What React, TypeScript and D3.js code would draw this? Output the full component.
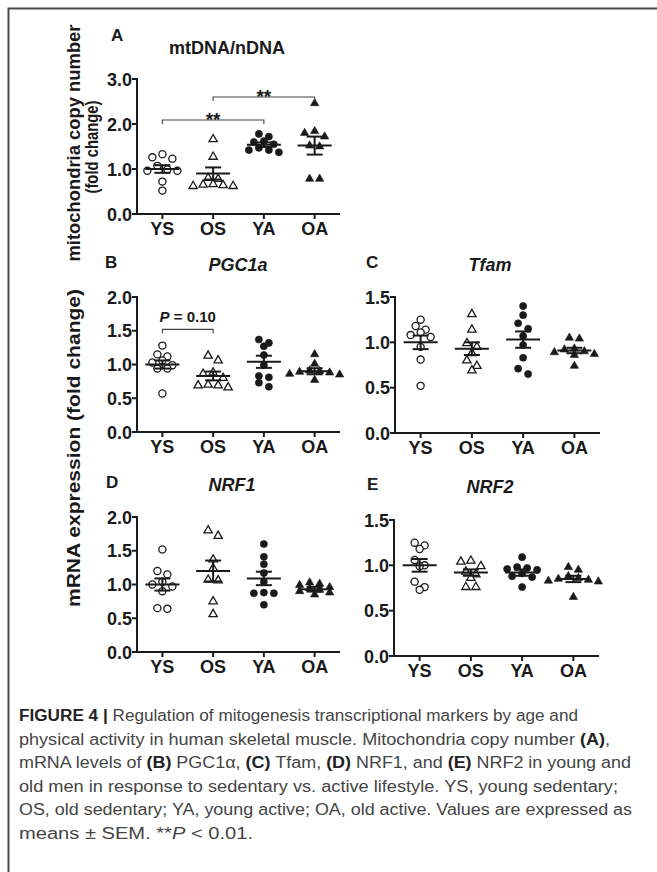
import React from "react"
import * as d3 from "d3"

// groups on every x axis
const groups = ["YS", "OS", "YA", "OA"]

// A - mtDNA/nDNA (values per group)
const mtdnaPoints = [
	[1.33, 1.26, 1.23, 1.07, 0.99, 0.96, 0.96, 0.72, 0.52],
	[1.66, 1.27, 0.80, 0.78, 0.66, 0.65, 0.64, 0.62, 0.62],
	[1.78, 1.72, 1.62, 1.60, 1.55, 1.47, 1.42, 1.42, 1.37],
	[2.46, 1.84, 1.80, 1.72, 1.52, 1.50, 0.78, 0.78],
]
const mtdnaMeans = [1.0, 0.9, 1.54, 1.52]
const mtdnaSems = [0.085, 0.135, 0.05, 0.2]
const mtdnaTicks = [0, 1, 2, 3]

// B - PGC1a
const pgcPoints = [
	[1.28, 1.15, 1.12, 1.06, 1.03, 0.99, 0.94, 0.94, 0.57],
	[1.13, 1.06, 0.88, 0.86, 0.8, 0.7, 0.69, 0.69, 0.66],
	[1.37, 1.32, 1.27, 1.14, 0.99, 0.83, 0.81, 0.73, 0.67],
	[1.15, 1.01, 0.91, 0.9, 0.89, 0.88, 0.86, 0.85, 0.77],
]
const pgcMeans = [1.0, 0.83, 1.04, 0.9]
const pgcSems = [0.06, 0.065, 0.09, 0.045]
const pgcTicks = [0, 0.5, 1, 1.5, 2]

// C - Tfam
const tfamPoints = [
	[1.25, 1.18, 1.14, 1.11, 1.08, 1.06, 0.95, 0.81, 0.52],
	[1.31, 1.14, 0.99, 0.95, 0.88, 0.8, 0.74, 0.69],
	[1.4, 1.3, 1.21, 1.15, 1.07, 0.97, 0.83, 0.71, 0.65],
	[1.05, 1.04, 0.93, 0.92, 0.9, 0.89, 0.87, 0.86, 0.74],
]
const tfamMeans = [1.0, 0.93, 1.03, 0.91]
const tfamSems = [0.075, 0.07, 0.09, 0.03]
const tfamTicks = [0, 0.5, 1, 1.5]

// D - NRF1
const nrf1Points = [
	[1.52, 1.2, 1.15, 1.04, 1.0, 0.97, 0.9, 0.65, 0.64],
	[1.8, 1.72, 1.37, 1.24, 1.07, 1.06, 0.75, 0.56],
	[1.6, 1.41, 1.3, 1.17, 1.04, 0.88, 0.87, 0.87, 0.7],
	[1.03, 1.01, 0.99, 0.96, 0.94, 0.92, 0.9, 0.88, 0.85],
]
const nrf1Means = [1.0, 1.2, 1.09, 0.93]
const nrf1Sems = [0.09, 0.155, 0.1, 0.035]
const nrf1Ticks = [0, 0.5, 1, 1.5, 2]

// E - NRF2
const nrf2Points = [
	[1.25, 1.22, 1.18, 1.06, 1.0, 0.99, 0.82, 0.76, 0.73],
	[1.05, 1.04, 0.99, 0.93, 0.9, 0.86, 0.76, 0.76],
	[1.09, 0.98, 0.97, 0.96, 0.95, 0.91, 0.88, 0.87, 0.76],
	[0.98, 0.95, 0.88, 0.86, 0.85, 0.84, 0.83, 0.82, 0.65],
]
const nrf2Means = [1.0, 0.92, 0.92, 0.85]
const nrf2Sems = [0.07, 0.035, 0.035, 0.035]
const nrf2Ticks = [0, 0.5, 1, 1.5]

// significance brackets
const mtdnaBrackets = [
	{ from: "YS", to: "YA", level: 2.09, label: "**" },
	{ from: "OS", to: "OA", level: 2.6, label: "**" },
]
const pgcBrackets = [{ from: "YS", to: "OS", level: 1.52, label: "P = 0.10" }]

const captionLines = [
	[["FIGURE 4 |", "b"], [" Regulation of mitogenesis transcriptional markers by age and", ""]],
	[["physical activity in human skeletal muscle. Mitochondria copy number ", ""], ["(A)", "b"], [",", ""]],
	[
		["mRNA levels of ", ""], ["(B)", "b"], [" PGC1\u03b1, ", ""], ["(C)", "b"], [" Tfam, ", ""],
		["(D)", "b"], [" NRF1, and ", ""], ["(E)", "b"], [" NRF2 in young and", ""],
	],
	[["old men in response to sedentary vs. active lifestyle. YS, young sedentary;", ""]],
	[["OS, old sedentary; YA, young active; OA, old active. Values are expressed as", ""]],
	[["means \u00b1 SEM. **", ""], ["P", "i"], [" < 0.01.", ""]],
]
const captionWidths = [559, 591, 612, 599, 613, 234]

const FONT = "'Liberation Sans', Arial, sans-serif"
const INK = "#1a1a1a"

const panels = [
	{ letter: "A", title: "mtDNA/nDNA", italic: false, points: mtdnaPoints, means: mtdnaMeans, sems: mtdnaSems, ticks: mtdnaTicks, brackets: mtdnaBrackets, x0: 137, x1: 340, top: 79, bottom: 214, titleX: 227, titleY: 54, letterX: 111, letterY: 41 },
	{ letter: "B", title: "PGC1a", italic: true, points: pgcPoints, means: pgcMeans, sems: pgcSems, ticks: pgcTicks, brackets: pgcBrackets, x0: 137, x1: 340, top: 297, bottom: 432, titleX: 238, titleY: 271, letterX: 105, letterY: 268 },
	{ letter: "C", title: "Tfam", italic: true, points: tfamPoints, means: tfamMeans, sems: tfamSems, ticks: tfamTicks, brackets: [], x0: 395, x1: 600, top: 297, bottom: 433, titleX: 490, titleY: 271, letterX: 366, letterY: 268 },
	{ letter: "D", title: "NRF1", italic: true, points: nrf1Points, means: nrf1Means, sems: nrf1Sems, ticks: nrf1Ticks, brackets: [], x0: 137, x1: 340, top: 517, bottom: 652, titleX: 232, titleY: 491, letterX: 106, letterY: 488 },
	{ letter: "E", title: "NRF2", italic: true, points: nrf2Points, means: nrf2Means, sems: nrf2Sems, ticks: nrf2Ticks, brackets: [], x0: 394, x1: 599, top: 520, bottom: 656, titleX: 490, titleY: 493, letterX: 367, letterY: 490 },
]

const circlePath = d3.symbol().type(d3.symbolCircle).size(40)()
const trianglePath = d3.symbol().type(d3.symbolTriangle).size(30)()

// GraphPad-like scatter: points close in y share a row and are spread symmetrically
function swarm(vals, y, cx, step, rowH) {
	const sorted = vals.slice().sort((a, b) => b - a)
	const rows = []
	sorted.forEach(v => {
		const py = y(v)
		const last = rows[rows.length - 1]
		if (last && py - last.start < rowH) last.ys.push(py)
		else rows.push({ start: py, ys: [py] })
	})
	const out = []
	rows.forEach(r => {
		const n = r.ys.length
		const offs = d3
			.range(n)
			.map(i => (i - (n - 1) / 2) * step)
			.sort((a, b) => Math.abs(a) - Math.abs(b) || a - b)
		r.ys.forEach((py, i) => out.push({ x: cx + offs[i], y: py }))
	})
	return out
}

const Panel = ({ cfg }) => {
	const x = d3.scalePoint().domain(groups).range([cfg.x0, cfg.x1]).padding(0.5)
	const y = d3
		.scaleLinear()
		.domain([0, d3.max(cfg.ticks)])
		.range([cfg.bottom, cfg.top])
	const fmt = d3.format(".1f")

	return (
		<g>
			<text x={cfg.letterX} y={cfg.letterY} fontSize={17} fontWeight="bold" fill={INK}>
				{cfg.letter}
			</text>
			<text
				x={cfg.titleX}
				y={cfg.titleY}
				fontSize={18}
				fontWeight="bold"
				fontStyle={cfg.italic ? "italic" : "normal"}
				textAnchor="middle"
				fill={INK}
			>
				{cfg.title}
			</text>

			{/* y axis */}
			<line x1={cfg.x0} x2={cfg.x0} y1={y(0) + 1} y2={y(d3.max(cfg.ticks)) - 1} stroke={INK} strokeWidth={2} />
			{cfg.ticks.map(t => (
				<g key={t}>
					<line x1={cfg.x0 - 5} x2={cfg.x0} y1={y(t)} y2={y(t)} stroke={INK} strokeWidth={2} />
					<text x={cfg.x0 - 5} y={y(t) + 6.5} fontSize={18} fontWeight="bold" textAnchor="end" fill={INK}>
						{fmt(t)}
					</text>
				</g>
			))}

			{/* x axis */}
			<line x1={cfg.x0} x2={cfg.x1} y1={y(0)} y2={y(0)} stroke={INK} strokeWidth={2} />
			{groups.map(g => (
				<g key={g}>
					<line x1={x(g)} x2={x(g)} y1={y(0)} y2={y(0) + 5} stroke={INK} strokeWidth={2} />
					<text x={x(g)} y={y(0) + 21} fontSize={18} fontWeight="bold" textAnchor="middle" fill={INK}>
						{g}
					</text>
				</g>
			))}

			{/* points */}
			{cfg.points.map((vals, gi) => {
				const open = gi < 2
				const path = gi % 2 === 0 ? circlePath : trianglePath
				return swarm(vals, y, x(groups[gi]), 10, 6).map((p, i) => (
					<path
						key={gi + "-" + i}
						d={path}
						transform={`translate(${p.x},${p.y})`}
						fill={open ? "#fff" : INK}
						stroke={INK}
						strokeWidth={open ? 1.3 : 0.6}
					/>
				))
			})}

			{/* mean +- SEM */}
			{cfg.means.map((m, gi) => {
				const cx = x(groups[gi])
				const hi = y(m + cfg.sems[gi])
				const lo = y(m - cfg.sems[gi])
				return (
					<g key={"m" + gi} stroke={INK} strokeWidth={2}>
						<line x1={cx - 17} x2={cx + 17} y1={y(m)} y2={y(m)} />
						<line x1={cx} x2={cx} y1={hi} y2={lo} />
						<line x1={cx - 8} x2={cx + 8} y1={hi} y2={hi} />
						<line x1={cx - 8} x2={cx + 8} y1={lo} y2={lo} />
					</g>
				)
			})}

			{/* brackets */}
			{cfg.brackets.map((b, i) => {
				const by = y(b.level)
				const mid = (x(b.from) + x(b.to)) / 2
				return (
					<g key={"b" + i}>
						<path
							d={`M${x(b.from)},${by + 4}V${by}H${x(b.to)}V${by + 4}`}
							fill="none"
							stroke="#444"
							strokeWidth={1.1}
						/>
						{b.label === "**" ? (
							<text x={mid} y={by + 6} fontSize={19} fontWeight="bold" textAnchor="middle" fill={INK}>
								**
							</text>
						) : (
							<text x={mid} y={by - 7} fontSize={15} fontWeight="bold" textAnchor="middle" fill={INK}>
								<tspan fontStyle="italic">P</tspan>
								{b.label.slice(1)}
							</text>
						)}
					</g>
				)
			})}
		</g>
	)
}

const App = () => {
	return (
		<svg
			width={657}
			height={872}
			style={{ position: "absolute", left: 0, top: 0, background: "#fff" }}
			fontFamily={FONT}
		>
			{/* frame */}
			<path d="M8.5,872V8.5H657" fill="none" stroke="#4a4a4a" strokeWidth={2} />

			{/* y axis titles */}
			<text
				transform="translate(80,143) rotate(-90)"
				textAnchor="middle"
				fontSize={18}
				fontWeight="bold"
				fill={INK}
				textLength={237}
				lengthAdjust="spacingAndGlyphs"
			>
				mitochondria copy number
			</text>
			<text
				transform="translate(98,147) rotate(-90)"
				textAnchor="middle"
				fontSize={18}
				fontWeight="bold"
				fill={INK}
				textLength={93}
				lengthAdjust="spacingAndGlyphs"
			>
				(fold change)
			</text>
			<text
				transform="translate(80,448) rotate(-90)"
				textAnchor="middle"
				fontSize={18}
				fontWeight="bold"
				fill={INK}
				textLength={318}
				lengthAdjust="spacingAndGlyphs"
			>
				mRNA expression (fold change)
			</text>

			{panels.map(p => (
				<Panel key={p.letter} cfg={p} />
			))}

			{/* caption */}
			{captionLines.map((line, i) => (
				<text
					key={i}
					x={19}
					y={721 + i * 23.6}
					fontSize={16}
					fill="#444"
					textLength={captionWidths[i]}
					lengthAdjust="spacingAndGlyphs"
				>
					{line.map(([t, s], j) => (
						<tspan
							key={j}
							fontWeight={s === "b" ? "bold" : "normal"}
							fontStyle={s === "i" ? "italic" : "normal"}
							fill={s === "b" ? "#222" : "#444"}
						>
							{t}
						</tspan>
					))}
				</text>
			))}
		</svg>
	)
}

export default App
